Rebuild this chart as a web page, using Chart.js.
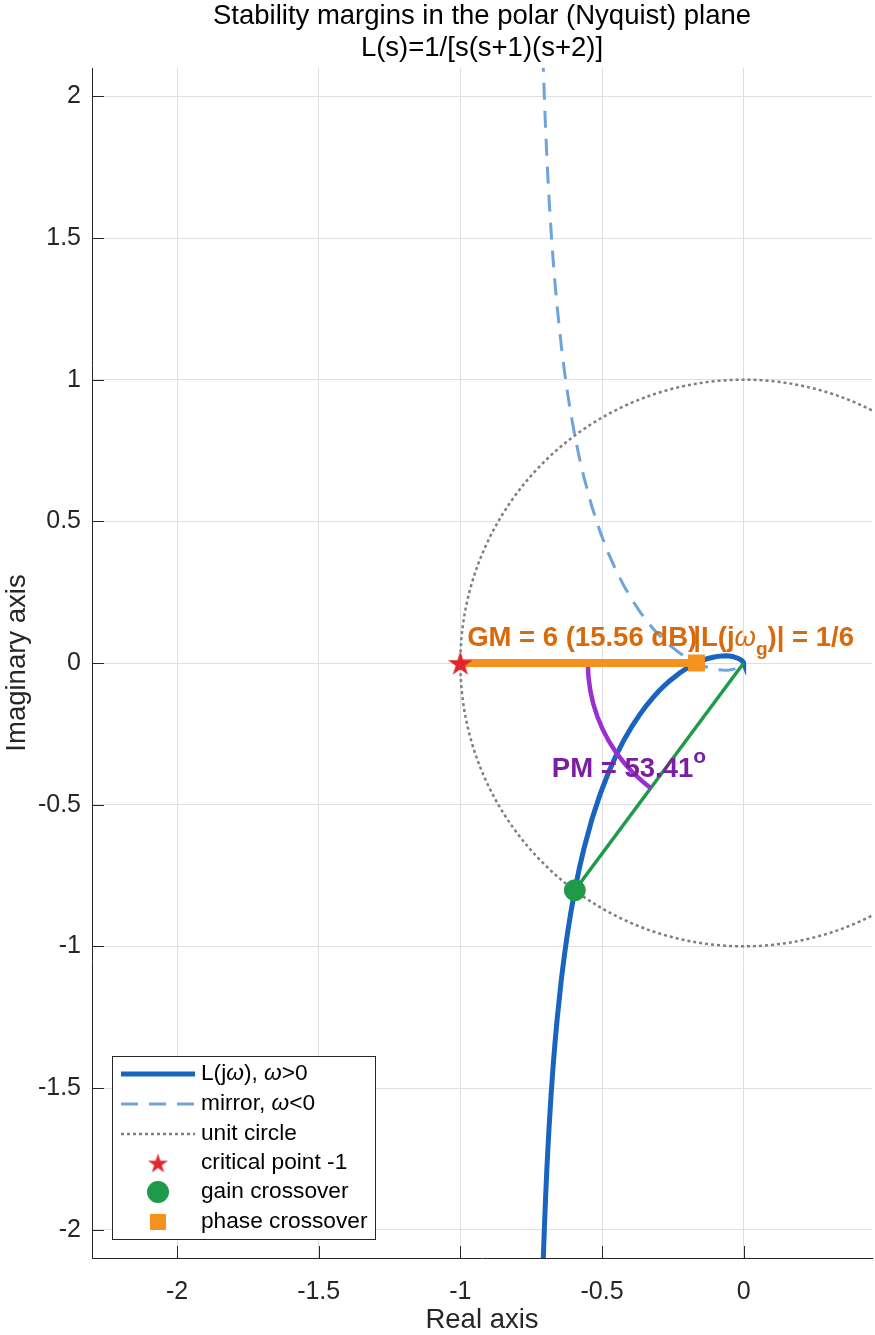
<!DOCTYPE html>
<html>
<head>
<meta charset="utf-8">
<script src="https://cdn.jsdelivr.net/npm/chart.js@4.4.1/dist/chart.umd.min.js"></script>
<style>
  html, body { margin: 0; padding: 0; background: #ffffff; }
  canvas { display: block; }
</style>
</head>
<body>
<canvas id="nyquist" width="875" height="1335"></canvas>
<script>
// Axis limits and ticks
const xMin = -2.3, xMax = 0.4529;
const yMin = -2.1, yMax = 2.1;
const xTicks = [-2, -1.5, -1, -0.5, 0];
const yTicks = [-2, -1.5, -1, -0.5, 0, 0.5, 1, 1.5, 2];

// L(jw) for w > 0
const posRe = [-0.70867, -0.70682, -0.70302, -0.69908, -0.69502, -0.69083, -0.68653, -0.67985, -0.67293, -0.66578,
  -0.65842, -0.64311, -0.63253, -0.62168, -0.61061, -0.59593, -0.57926, -0.56471, -0.53533, -0.50594,
  -0.47687, -0.44843, -0.42082, -0.39424, -0.36880, -0.34459, -0.32164, -0.30000, -0.27964, -0.26055,
  -0.22601, -0.19600, -0.17997, -0.16667, -0.14769, -0.12846, -0.11193, -0.09139, -0.07500, -0.06188,
  -0.05134, -0.04037, -0.03205, -0.01874, -0.00882, -0.00398, -0.00113, -0.00029, 0];
const posIm = [-2.14665, -2.09006, -1.98384, -1.88598, -1.79547, -1.71151, -1.63334, -1.52572, -1.42811, -1.33916,
  -1.25772, -1.11378, -1.02958, -0.95325, -0.88373, -0.80218, -0.72128, -0.65882, -0.55074, -0.46097,
  -0.38578, -0.32244, -0.26886, -0.22340, -0.18476, -0.15187, -0.12386, -0.10000, -0.07968, -0.06237,
  -0.03516, -0.01558, -0.00663, 0, 0.00821, 0.01499, 0.01953, 0.02342, 0.02500, 0.02516,
  0.02448, 0.02288, 0.02093, 0.01609, 0.01029, 0.00610, 0.00253, 0.00093, 0];

// mirror image, w < 0
const negRe = [-0.70867, -0.70682, -0.70302, -0.69908, -0.69502, -0.69083, -0.68653, -0.67985, -0.67293, -0.66578,
  -0.65842, -0.64311, -0.63253, -0.62168, -0.61061, -0.59593, -0.57926, -0.56471, -0.53533, -0.50594,
  -0.47687, -0.44843, -0.42082, -0.39424, -0.36880, -0.34459, -0.32164, -0.30000, -0.27964, -0.26055,
  -0.22601, -0.19600, -0.17997, -0.16667, -0.14769, -0.12846, -0.11193, -0.09139, -0.07500, -0.06188,
  -0.05134, -0.04037, -0.03205, -0.01874, -0.00882, -0.00398, -0.00113, -0.00029, 0];
const negIm = [2.14665, 2.09006, 1.98384, 1.88598, 1.79547, 1.71151, 1.63334, 1.52572, 1.42811, 1.33916,
  1.25772, 1.11378, 1.02958, 0.95325, 0.88373, 0.80218, 0.72128, 0.65882, 0.55074, 0.46097,
  0.38578, 0.32244, 0.26886, 0.22340, 0.18476, 0.15187, 0.12386, 0.10000, 0.07968, 0.06237,
  0.03516, 0.01558, 0.00663, 0, -0.00821, -0.01499, -0.01953, -0.02342, -0.02500, -0.02516,
  -0.02448, -0.02288, -0.02093, -0.01609, -0.01029, -0.00610, -0.00253, -0.00093, 0];

// unit circle, every 10 degrees
const circRe = [1, 0.9848, 0.9397, 0.8660, 0.7660, 0.6428, 0.5, 0.3420, 0.1736, 0,
  -0.1736, -0.3420, -0.5, -0.6428, -0.7660, -0.8660, -0.9397, -0.9848, -1,
  -0.9848, -0.9397, -0.8660, -0.7660, -0.6428, -0.5, -0.3420, -0.1736, 0,
  0.1736, 0.3420, 0.5, 0.6428, 0.7660, 0.8660, 0.9397, 0.9848, 1];
const circIm = [0, 0.1736, 0.3420, 0.5, 0.6428, 0.7660, 0.8660, 0.9397, 0.9848, 1,
  0.9848, 0.9397, 0.8660, 0.7660, 0.6428, 0.5, 0.3420, 0.1736, 0,
  -0.1736, -0.3420, -0.5, -0.6428, -0.7660, -0.8660, -0.9397, -0.9848, -1,
  -0.9848, -0.9397, -0.8660, -0.7660, -0.6428, -0.5, -0.3420, -0.1736, 0];

// phase margin arc (radius 0.55)
const arcRe = [-0.5500, -0.5479, -0.5416, -0.5313, -0.5168, -0.4985, -0.4763, -0.4505, -0.4213, -0.3889, -0.3535, -0.3276];
const arcIm = [0, -0.0479, -0.0955, -0.1424, -0.1881, -0.2324, -0.2750, -0.3155, -0.3535, -0.3889, -0.4213, -0.4418];

// special points
const originPt = [0, 0];
const critPt = [-1, 0];
const gainPt = [-0.5959, -0.8022];
const phasePt = [-0.1667, 0];

const FONT = "'Liberation Sans', Arial, Helvetica, sans-serif";
const C = {
  blue: '#1864bf', mirror: '#6fa3dc', circle: '#7f7f7f', green: '#1e9a4a',
  purple: '#9b30d0', purpleText: '#7a1fa2', orange: '#f5921e', orangeText: '#d96a0c',
  red: '#e0262b', axis: '#262626', grid: '#dfdfdf'
};

const toXY = (xs, ys) => xs.map((v, i) => ({ x: v, y: ys[i] }));

// filled 5 point star used as marker
function makeStar(R, color) {
  const s = Math.ceil(R * 2 + 2);
  const cv = document.createElement('canvas');
  cv.width = s; cv.height = s;
  const g = cv.getContext('2d');
  g.fillStyle = color;
  g.beginPath();
  for (let k = 0; k < 10; k++) {
    const r = k % 2 === 0 ? R : R * 0.382;
    const a = -Math.PI / 2 + k * Math.PI / 5;
    const px = s / 2 + r * Math.cos(a), py = s / 2 + R * 0.1 + r * Math.sin(a);
    k === 0 ? g.moveTo(px, py) : g.lineTo(px, py);
  }
  g.closePath();
  g.fill();
  return cv;
}
const starBig = makeStar(13, C.red);
const starSmall = makeStar(10.5, C.red);

function drawRich(ctx, parts, x, y) {
  for (const p of parts) {
    ctx.font = p.font;
    ctx.fillText(p.t, x, y + (p.dy || 0));
    x += ctx.measureText(p.t).width;
  }
}

const decor = {
  id: 'decor',
  afterDraw(chart) {
    const { ctx, chartArea: a, scales: { x, y } } = chart;
    ctx.save();

    // inward tick marks
    ctx.strokeStyle = C.axis;
    ctx.lineWidth = 1;
    ctx.beginPath();
    xTicks.forEach(v => {
      const px = Math.round(x.getPixelForValue(v)) + 0.5;
      ctx.moveTo(px, a.bottom); ctx.lineTo(px, a.bottom - 12);
    });
    yTicks.forEach(v => {
      const py = Math.round(y.getPixelForValue(v)) + 0.5;
      ctx.moveTo(a.left, py); ctx.lineTo(a.left + 12, py);
    });
    ctx.stroke();

    // title
    ctx.fillStyle = '#000';
    ctx.textAlign = 'center';
    ctx.textBaseline = 'alphabetic';
    ctx.font = '27.5px ' + FONT;
    const cx = (a.left + a.right) / 2;
    ctx.fillText('Stability margins in the polar (Nyquist) plane', cx, 24);
    ctx.fillText('L(s)=1/[s(s+1)(s+2)]', cx, 56);

    // axis titles
    ctx.fillStyle = C.axis;
    ctx.font = '27.5px ' + FONT;
    ctx.fillText('Real axis', cx, 1328);
    ctx.save();
    ctx.translate(25, (a.top + a.bottom) / 2);
    ctx.rotate(-Math.PI / 2);
    ctx.fillText('Imaginary axis', 0, 0);
    ctx.restore();

    // annotations
    ctx.textAlign = 'left';
    const B = 'bold 27.5px ' + FONT;
    ctx.fillStyle = C.orangeText;
    ctx.font = B;
    ctx.fillText('GM = 6 (15.56 dB)', x.getPixelForValue(-0.976), y.getPixelForValue(0.06));
    drawRich(ctx, [
      { t: '|L(j', font: B },
      { t: 'ω', font: 'italic 27.5px ' + FONT },
      { t: 'g', font: 'bold 19px ' + FONT, dy: 9 },
      { t: ')| = 1/6', font: B }
    ], x.getPixelForValue(-0.178), y.getPixelForValue(0.06));

    ctx.fillStyle = C.purpleText;
    drawRich(ctx, [
      { t: 'PM = 53.41', font: B },
      { t: 'o', font: 'bold 21px ' + FONT, dy: -14 }
    ], x.getPixelForValue(-0.677), y.getPixelForValue(-0.402));

    // legend
    const lx = 112, ly = 1056, lw = 263, lh = 183;
    ctx.fillStyle = '#fff';
    ctx.fillRect(lx, ly, lw, lh);
    ctx.strokeStyle = C.axis;
    ctx.lineWidth = 1;
    ctx.strokeRect(lx + 0.5, ly + 0.5, lw, lh);

    const rows = [1074, 1104, 1134, 1163, 1192, 1222];
    const x0 = 121, x1 = 195, mx = 158, tx = 201;
    const line = (yy, color, w, dash) => {
      ctx.save();
      ctx.strokeStyle = color; ctx.lineWidth = w; ctx.setLineDash(dash);
      ctx.beginPath(); ctx.moveTo(x0, yy); ctx.lineTo(x1, yy); ctx.stroke();
      ctx.restore();
    };
    line(rows[0], C.blue, 5, []);
    line(rows[1], C.mirror, 3, [17, 11]);
    line(rows[2], C.circle, 2.5, [3, 3]);
    ctx.drawImage(starSmall, mx - starSmall.width / 2, rows[3] - starSmall.height / 2);
    ctx.fillStyle = C.green;
    ctx.beginPath(); ctx.arc(mx, rows[4], 11, 0, Math.PI * 2); ctx.fill();
    ctx.fillStyle = C.orange;
    ctx.fillRect(mx - 8, rows[5] - 8, 16, 16);

    ctx.fillStyle = '#000';
    ctx.textBaseline = 'middle';
    const N = '22.7px ' + FONT, I = 'italic 22.7px ' + FONT;
    drawRich(ctx, [{ t: 'L(j', font: N }, { t: 'ω', font: I }, { t: '), ', font: N }, { t: 'ω', font: I }, { t: '>0', font: N }], tx, rows[0]);
    drawRich(ctx, [{ t: 'mirror, ', font: N }, { t: 'ω', font: I }, { t: '<0', font: N }], tx, rows[1]);
    ctx.font = N;
    ctx.fillText('unit circle', tx, rows[2]);
    ctx.fillText('critical point -1', tx, rows[3]);
    ctx.fillText('gain crossover', tx, rows[4]);
    ctx.fillText('phase crossover', tx, rows[5]);

    ctx.restore();
  }
};

const ctx = document.getElementById('nyquist').getContext('2d');
new Chart(ctx, {
  type: 'scatter',
  data: {
    datasets: [
      { label: 'critical point -1', data: [{ x: critPt[0], y: critPt[1] }], pointStyle: starBig, pointRadius: 12, order: 0 },
      { label: 'gain crossover', data: [{ x: gainPt[0], y: gainPt[1] }], pointStyle: 'circle', pointRadius: 10.5,
        backgroundColor: C.green, borderColor: C.green, borderWidth: 1, order: 0 },
      { label: 'phase crossover', data: [{ x: phasePt[0], y: phasePt[1] }], pointStyle: 'rect', pointRadius: 12,
        backgroundColor: C.orange, borderWidth: 0, order: 0 },
      { label: 'GM', data: [{ x: critPt[0], y: critPt[1] }, { x: phasePt[0], y: phasePt[1] }],
        showLine: true, borderColor: C.orange, borderWidth: 8, pointRadius: 0, order: 1, clip: 0 },
      { label: 'PM arc', data: toXY(arcRe, arcIm), showLine: true, borderColor: C.purple, borderWidth: 4.5,
        pointRadius: 0, order: 2, clip: 0 },
      { label: 'gain line', data: [{ x: originPt[0], y: originPt[1] }, { x: gainPt[0], y: gainPt[1] }],
        showLine: true, borderColor: C.green, borderWidth: 3.5, pointRadius: 0, order: 3, clip: 0 },
      { label: 'L(jw), w>0', data: toXY(posRe, posIm), showLine: true, borderColor: C.blue, borderWidth: 5,
        pointRadius: 0, order: 4, clip: 0 },
      { label: 'mirror, w<0', data: toXY(negRe, negIm), showLine: true, borderColor: C.mirror, borderWidth: 3,
        borderDash: [17, 11], pointRadius: 0, order: 5, clip: 0 },
      { label: 'unit circle', data: toXY(circRe, circIm), showLine: true, borderColor: C.circle, borderWidth: 2.5,
        borderDash: [3, 3], tension: 0.33, pointRadius: 0, order: 6, clip: 0 }
    ]
  },
  options: {
    responsive: false,
    animation: false,
    devicePixelRatio: 1,
    events: [],
    layout: { autoPadding: false, padding: { top: 68, right: 3, left: 0, bottom: 0 } },
    plugins: { legend: { display: false }, tooltip: { enabled: false }, title: { display: false } },
    scales: {
      x: {
        type: 'linear', min: xMin, max: xMax,
        afterBuildTicks: s => { s.ticks = xTicks.map(v => ({ value: v })); },
        afterFit: s => { s.height = 77; s.paddingLeft = 0; s.paddingRight = 0; },
        grid: { color: C.grid, lineWidth: 1, drawTicks: false },
        border: { display: true, color: C.axis, width: 1 },
        ticks: { font: { family: FONT, size: 25 }, color: C.axis, padding: 19, autoSkip: false, maxRotation: 0,
          callback: v => String(v) }
      },
      y: {
        type: 'linear', min: yMin, max: yMax,
        afterBuildTicks: s => { s.ticks = yTicks.map(v => ({ value: v })); },
        afterFit: s => { s.width = 92; s.paddingTop = 0; s.paddingBottom = 0; },
        grid: { color: C.grid, lineWidth: 1, drawTicks: false },
        border: { display: true, color: C.axis, width: 1 },
        ticks: { font: { family: FONT, size: 25 }, color: C.axis, padding: 11, autoSkip: false,
          callback: v => String(v) }
      }
    }
  },
  plugins: [decor]
});
</script>
</body>
</html>
